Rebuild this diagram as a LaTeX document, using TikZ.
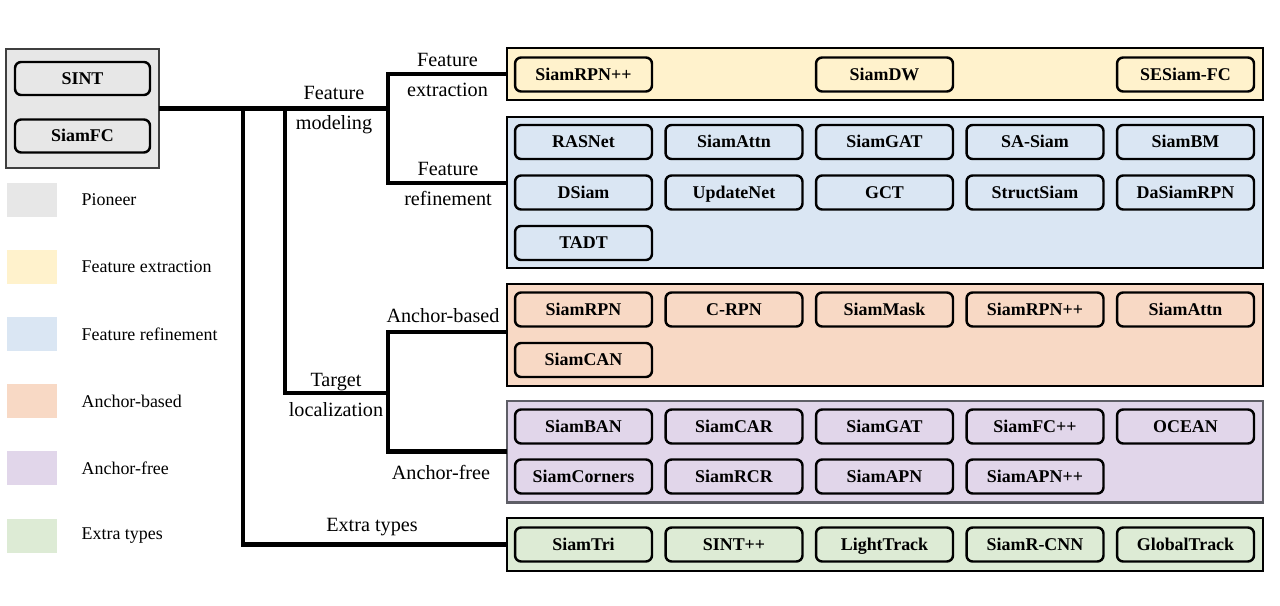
\documentclass[tikz,border=0pt]{standalone}
\usepackage{fontspec}
\setmainfont{Liberation Serif}
\usetikzlibrary{positioning}

\definecolor{pioneerc}{HTML}{E7E7E7}
\definecolor{extrc}{HTML}{FFF2CC}
\definecolor{refc}{HTML}{DAE6F3}
\definecolor{abc}{HTML}{F8D9C5}
\definecolor{afc}{HTML}{E1D6EA}
\definecolor{extc}{HTML}{DDEBD5}
\definecolor{edgegray}{HTML}{3F3F3F}
\definecolor{afedge}{HTML}{5E5E66}

\begin{document}
\begin{tikzpicture}[x=0.02cm, y=-0.02cm, line join=miter,
		branch/.style={line width=2.8pt},
		group/.style={draw, line width=1.5pt, minimum width=15.12cm, inner sep=0pt, outer sep=0pt},
		item/.style={draw, line width=1.4pt, rounded corners=3.5pt, minimum width=2.74cm, minimum height=0.68cm,
			inner sep=0pt, text height=6.7pt, text depth=0pt, font=\fontsize{10.2}{12}\selectfont\bfseries},
		swatch/.style={minimum width=1cm, minimum height=0.68cm, inner sep=0pt},
		legtext/.style={inner sep=0pt, font=\fontsize{10.2}{12}\selectfont},
		treelabel/.style={inner sep=0pt, align=center, font=\fontsize{11.5}{17}\selectfont}]
		
		\useasboundingbox (0,0) rectangle (1280,605);
		
		% --- Left: pioneer box ---
		\node[draw=edgegray, line width=1.4pt, fill=pioneerc, minimum width=3.06cm, minimum height=2.38cm,
			inner sep=0pt, outer sep=0pt] (pioneer) at (82.5,108.5) {};
		\node[item, fill=pioneerc, minimum width=2.7cm, minimum height=0.66cm] (sint) at (82.5,78.5) {SINT};
		\node[item, fill=pioneerc, minimum width=2.7cm, minimum height=0.66cm] (siamfc) at (82.5,136) {SiamFC};
		
		% --- legend ---
		\foreach \col/\txt [count=\i from 0] in {pioneerc/Pioneer, extrc/Feature extraction,
			refc/Feature refinement, abc/Anchor-based, afc/Anchor-free, extc/Extra types}{
			\node[swatch, fill=\col] (sw-\i) at (32,{200+67.1*\i}) {};
			\node[legtext, right=0.48cm of sw-\i] (lt-\i) {\txt};
		}
		
		% --- group boxes ---
		\node[group, fill=extrc, minimum height=1.04cm] (fe) at (885,74) {};
		\node[group, fill=refc, minimum height=3.02cm] (fr) at (885,192.5) {};
		\node[group, fill=abc, minimum height=2.04cm] (ab) at (885,335) {};
		\node[group, draw=afedge, fill=afc, minimum height=2.03cm] (af) at (885,451.75) {};
		\node[group, fill=extc, minimum height=1.06cm] (et) at (885,544.5) {};
		
		% --- methods in each group ---
		\node[item, fill=extrc] (fe-0) at (583.5,74.5) {SiamRPN++};
		\node[item, fill=extrc] (fe-1) at (884.5,74.5) {SiamDW};
		\node[item, fill=extrc] (fe-2) at (1185.5,74.5) {SESiam-FC};
		
		\foreach \name [count=\i from 0] in {RASNet,SiamAttn,SiamGAT,SA-Siam,SiamBM,
			DSiam,UpdateNet,GCT,StructSiam,DaSiamRPN,TADT}
		\node[item, fill=refc] (fr-\i) at ({583.5+150.5*mod(\i,5)},{142+50.5*int(\i/5)}) {\name};
		
		\foreach \name [count=\i from 0] in {SiamRPN,C-RPN,SiamMask,SiamRPN++,SiamAttn,SiamCAN}
		\node[item, fill=abc] (ab-\i) at ({583.5+150.5*mod(\i,5)},{309.5+50.5*int(\i/5)}) {\name};
		
		\foreach \name [count=\i from 0] in {SiamBAN,SiamCAR,SiamGAT,SiamFC++,OCEAN,
			SiamCorners,SiamRCR,SiamAPN,SiamAPN++}
		\node[item, fill=afc] (af-\i) at ({583.5+150.5*mod(\i,5)},{426.5+50*int(\i/5)}) {\name};
		
		\foreach \name [count=\i from 0] in {SiamTri,SINT++,LightTrack,SiamR-CNN,GlobalTrack}
		\node[item, fill=extc] (et-\i) at ({583.5+150.5*\i},544.5) {\name};
		
		% --- tree ---
		\coordinate (t1) at (243,108.5);
		\coordinate (t2) at (285,108.5);
		\coordinate (fm) at (388,108.5);
		\coordinate (tl) at (388,393);
		
		\draw[branch] (pioneer.east) -- (fm);
		\draw[branch] (fe.west) -| (fm);
		\draw[branch] ([yshift=5.4pt]fr.west) -| (fm);
		\draw[branch] (t2) |- (tl);
		\draw[branch] ([yshift=1.7pt]ab.west) -| (tl);
		\draw[branch] (af.west) -| (tl);
		\draw[branch] (t1) |- (et.west);
		
		% --- branch labels ---
		\node[treelabel] (lbl-fm) at (334,110) {Feature\\modeling};
		\node[treelabel] (lbl-fe) at (447.5,75) {Feature\\extraction};
		\node[treelabel] (lbl-fr) at (448,184) {Feature\\refinement};
		\node[treelabel] (lbl-tl) at (336,395) {Target\\localization};
		\node[treelabel] (lbl-ab) at (443,316) {Anchor-based};
		\node[treelabel] (lbl-af) at (441,472) {Anchor-free};
		\node[treelabel] (lbl-et) at (372,527) {Extra types};
		
	\end{tikzpicture}
\end{document}
